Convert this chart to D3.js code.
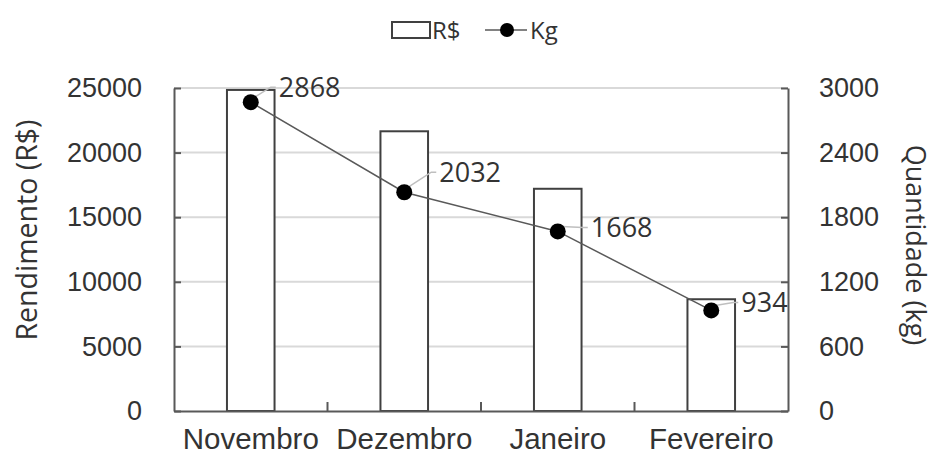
<!DOCTYPE html>
<html>
<head>
<meta charset="utf-8">
<script src="https://cdn.jsdelivr.net/npm/d3@7"></script>
<style>
	body { margin: 0; background: #fff; }
	svg { display: block; font-family: 'Open Sans', sans-serif; }
	.axis text { font-size: 27px; fill: #333; }
	.axis path, .axis line { stroke: #595959; stroke-width: 2; }
</style>
</head>
<body>
<svg class="chart" width="936" height="466"></svg>
<script>
const months = ['Novembro', 'Dezembro', 'Janeiro', 'Fevereiro'];
const reais = [24850, 21650, 17200, 8650];
const kilos = [2868, 2032, 1668, 934];
const leftTicks = [0, 5000, 10000, 15000, 20000, 25000];
const rightTicks = [0, 600, 1200, 1800, 2400, 3000];
// manual label nudges, like the hand-placed labels in the original
const labelNudge = [[28, -15], [35, -20], [33, -4], [30, -8]];

function startApp() {
	const svg = d3.select('.chart');
	const plot = {left: 174, right: 788, top: 88, bottom: 411};

	const xScale = d3.scaleBand().domain(months).range([plot.left, plot.right]);
	const yLeft = d3.scaleLinear().domain([0, 25000]).range([plot.bottom, plot.top]);
	const yRight = d3.scaleLinear().domain([0, 3000]).range([plot.bottom, plot.top]);
	const barWidth = xScale.bandwidth() * 0.31;
	const cx = m => xScale(m) + xScale.bandwidth() / 2;

	// gridlines
	svg.append('g')
		.selectAll('line')
		.data(leftTicks.slice(1))
		.enter()
			.append('line')
			.attr('x1', plot.left)
			.attr('x2', plot.right)
			.attr('y1', d => yLeft(d))
			.attr('y2', d => yLeft(d))
			.attr('stroke', '#d9d9d9')
			.attr('stroke-width', 2);

	// bars
	svg.append('g')
		.selectAll('rect')
		.data(months)
		.enter()
			.append('rect')
			.attr('x', (m) => cx(m) - barWidth / 2)
			.attr('y', (m, i) => yLeft(reais[i]))
			.attr('width', barWidth)
			.attr('height', (m, i) => plot.bottom - yLeft(reais[i]))
			.attr('fill', '#fff')
			.attr('stroke', '#404040')
			.attr('stroke-width', 2);

	// axes
	svg.append('g')
		.classed('axis', true)
		.attr('transform', `translate(${plot.left}, 0)`)
		.call(d3.axisLeft(yLeft).tickValues(leftTicks).tickFormat(d3.format('d'))
			.tickSizeInner(-7).tickSizeOuter(0).tickPadding(32));

	svg.append('g')
		.classed('axis', true)
		.attr('transform', `translate(${plot.right}, 0)`)
		.call(d3.axisRight(yRight).tickValues(rightTicks).tickFormat(d3.format('d'))
			.tickSizeInner(-7).tickSizeOuter(0).tickPadding(31));

	const xAxis = svg.append('g')
		.classed('axis', true)
		.attr('transform', `translate(0, ${plot.bottom})`)
		.call(d3.axisBottom(xScale).tickSize(0).tickPadding(17));

	xAxis.selectAll('text').style('font-size', '29.5px');

	xAxis.selectAll('.bound')
		.data(months.slice(1))
		.enter()
			.append('line')
			.classed('bound', true)
			.attr('x1', m => xScale(m))
			.attr('x2', m => xScale(m))
			.attr('y1', 0)
			.attr('y2', -9);

	// line series
	const line = d3.line()
		.x((d, i) => cx(months[i]))
		.y(d => yRight(d));

	svg.append('path')
		.datum(kilos)
		.attr('d', line)
		.attr('fill', 'none')
		.attr('stroke', '#595959')
		.attr('stroke-width', 1.5);

	// leader lines
	svg.append('g')
		.selectAll('path')
		.data(kilos)
		.enter()
			.append('path')
			.attr('d', (d, i) => {
				const x0 = cx(months[i]);
				const y0 = yRight(d);
				const [dx, dy] = labelNudge[i];
				return `M${x0 + 4},${y0 - 5}L${x0 + dx - 8},${y0 + dy}L${x0 + dx - 3},${y0 + dy}`;
			})
			.attr('fill', 'none')
			.attr('stroke', '#bfbfbf')
			.attr('stroke-width', 1.5);

	svg.append('g')
		.selectAll('circle')
		.data(kilos)
		.enter()
			.append('circle')
			.attr('cx', (d, i) => cx(months[i]))
			.attr('cy', d => yRight(d))
			.attr('r', 8)
			.attr('fill', '#000');

	svg.append('g')
		.selectAll('text')
		.data(kilos)
		.enter()
			.append('text')
			.attr('x', (d, i) => cx(months[i]) + labelNudge[i][0])
			.attr('y', (d, i) => yRight(d) + labelNudge[i][1])
			.attr('dy', '0.36em')
			.attr('font-size', 27)
			.attr('fill', '#333')
			.text(d => d);

	// axis titles
	svg.append('text')
		.attr('transform', 'translate(37, 230) rotate(-90)')
		.attr('text-anchor', 'middle')
		.attr('font-size', 28.5)
		.attr('fill', '#333')
		.text('Rendimento (R$)');

	svg.append('text')
		.attr('transform', 'translate(906, 245) rotate(90)')
		.attr('text-anchor', 'middle')
		.attr('font-size', 27)
		.attr('fill', '#333')
		.text('Quantidade (kg)');

	// legend
	const legend = svg.append('g').attr('transform', 'translate(392, 30)');
	legend.append('rect')
		.attr('x', 0).attr('y', -8).attr('width', 38).attr('height', 16)
		.attr('fill', '#fff').attr('stroke', '#404040').attr('stroke-width', 2);
	legend.append('text')
		.attr('x', 40).attr('dy', '0.36em').attr('font-size', 24).attr('fill', '#333')
		.text('R$');
	legend.append('line')
		.attr('x1', 93).attr('x2', 135).attr('stroke', '#595959').attr('stroke-width', 1.5);
	legend.append('circle')
		.attr('cx', 115).attr('r', 7).attr('fill', '#000');
	legend.append('text')
		.attr('x', 138).attr('dy', '0.36em').attr('font-size', 24).attr('fill', '#333')
		.text('Kg');
}

window.onload = startApp;
</script>
</body>
</html>
